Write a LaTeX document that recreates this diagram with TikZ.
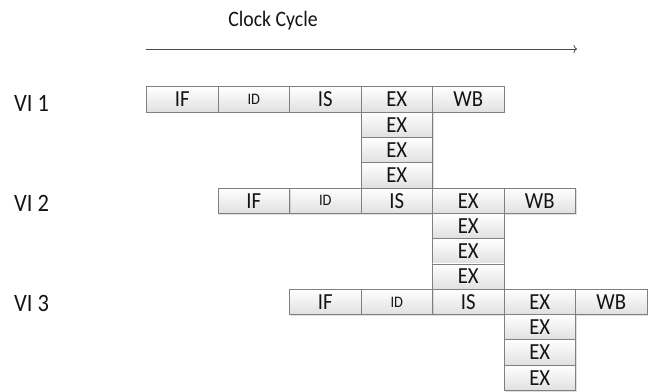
\documentclass[tikz,border=0pt]{standalone}
\usepackage{fontspec}
\setmainfont{Carlito}[FakeStretch=0.9]
\usepackage{xcolor}
\usepackage{tikz}
\usetikzlibrary{
  arrows.meta, positioning, shadows
}
\definecolor{stgline}{RGB}{128,128,128}
\definecolor{stgtop} {RGB}{255,255,255}
\definecolor{stgbot} {RGB}{224,224,224}
\definecolor{txtdark}{RGB}{20 ,20 ,20 }

\begin{document}
\begin{tikzpicture}[x=1pt, y=-1pt,
  stg/.style={rectangle, draw=stgline, line width=0.8pt,
    top color=stgtop, bottom color=stgbot,
    minimum width=71.5pt, minimum height=25.3pt,
    inner sep=0pt, outer sep=0pt, text=txtdark,
    font=\fontsize{23}{23}\selectfont,
    drop shadow={shadow xshift=1pt, shadow yshift=-1.2pt,
      opacity=0.25}},
  sml/.style={font=\fontsize{16}{16}\selectfont},
  lbl/.style={anchor=base west, inner sep=0pt, text=txtdark,
    font=\fontsize{25}{25}\selectfont},
  ar/.style={-{To[length=3.5pt, width=8pt]}, line width=0.8pt,
    draw=black!70}
]
  \useasboundingbox (0,0) rectangle (652,391);
  % Title and time axis
  \node[anchor=base, inner sep=0pt, text=txtdark,
    font=\fontsize{22}{22}\selectfont] (clk) at (273,26.5)
    {Clock Cycle};
  \coordinate (t0) at (146,49);
  \coordinate (t1) at (577,49);
  \draw[ar] (t0) -- (t1);
  % VI 1
  \node[stg] (a1) at (182.25,99.5) {IF};
  \node[stg, sml, right=0pt of a1] (a2) {ID};
  \node[stg, right=0pt of a2] (a3) {IS};
  \node[stg, right=0pt of a3] (a4) {EX};
  \node[stg, right=0pt of a4] (a5) {WB};
  \node[stg, below=0pt of a4] (a6) {EX};
  \node[stg, below=0pt of a6] (a7) {EX};
  \node[stg, below=0pt of a7] (a8) {EX};
  % VI 2
  \node[stg, below=0pt of a8] (b3) {IS};
  \node[stg, sml, left=0pt of b3] (b2) {ID};
  \node[stg, left=0pt of b2] (b1) {IF};
  \node[stg, right=0pt of b3] (b4) {EX};
  \node[stg, right=0pt of b4] (b5) {WB};
  \node[stg, below=0pt of b4] (b6) {EX};
  \node[stg, below=0pt of b6] (b7) {EX};
  \node[stg, below=0pt of b7] (b8) {EX};
  % VI 3
  \node[stg, below=0pt of b8] (c3) {IS};
  \node[stg, sml, left=0pt of c3] (c2) {ID};
  \node[stg, left=0pt of c2] (c1) {IF};
  \node[stg, right=0pt of c3] (c4) {EX};
  \node[stg, right=0pt of c4] (c5) {WB};
  \node[stg, below=0pt of c4] (c6) {EX};
  \node[stg, below=0pt of c6] (c7) {EX};
  \node[stg, below=0pt of c7] (c8) {EX};
  % Row labels
  \node[lbl] (v1) at (14,111.5) {VI 1};
  \node[lbl] (v2) at (14,211)   {VI 2};
  \node[lbl] (v3) at (14,311.5) {VI 3};
\end{tikzpicture}
\end{document}
